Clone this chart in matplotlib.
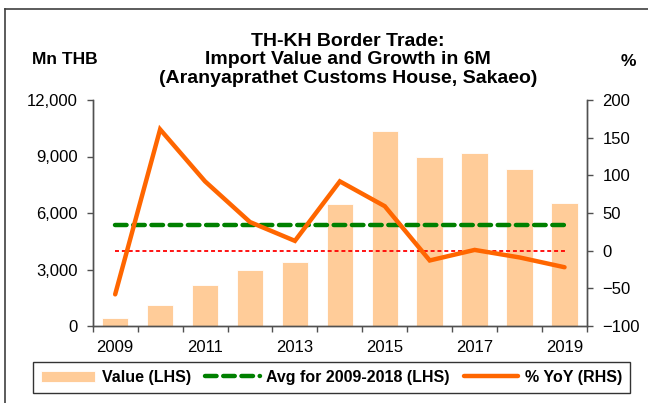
import numpy as np
import matplotlib
matplotlib.use("Agg")
import matplotlib.pyplot as plt
from matplotlib.lines import Line2D

plt.rcParams['font.family'] = ['Liberation Sans', 'DejaVu Sans']

years = [2009, 2010, 2011, 2012, 2013, 2014, 2015, 2016, 2017, 2018, 2019]
import_value = [400, 1100, 2200, 3000, 3400, 6500, 10350, 9000, 9200, 8350, 6550]   # Mn THB
yoy_growth = [-58, 161, 92, 38, 13, 92, 59, -13, 1, -9, -22]                       # %
left_ticks = [0, 3000, 6000, 9000, 12000]
right_ticks = [-100, -50, 0, 50, 100, 150, 200]

avg_value = np.mean(import_value[:10])  # 2009-2018 average

W, H = 648, 403
fig = plt.figure(figsize=(W / 100, H / 100), dpi=100)
ax = fig.add_axes([92.7 / W, 1 - 326 / H, (587 - 92.7) / W, 226 / H])
ax2 = ax.twinx()

x = np.arange(len(years))
axis_col = '#505050'
tick_fs = 12

bars = ax.bar(x, import_value, width=0.59, color='#FFCC99', edgecolor='white', linewidth=0.6,
              zorder=1)
avg_line, = ax.plot([x[0], x[-1]], [avg_value, avg_value], color='#008000', lw=3.2,
                    dashes=(2.6, 1.5), dash_capstyle='round', zorder=2)

ax2.plot([x[0], x[-1]], [0, 0], color='#FF0000', lw=1.3, dashes=(2.2, 1.6))
yoy_line, = ax2.plot(x, yoy_growth, color='#FF6600', lw=3.2, solid_capstyle='round',
                     solid_joinstyle='miter')

ax.set_xlim(-0.5, len(years) - 0.5)
ax.set_ylim(0, 12000)
ax2.set_ylim(-100, 200)

ax.set_yticks(left_ticks)
ax.set_yticklabels([f'{v:,}' for v in left_ticks])
ax2.set_yticks(right_ticks)

# boundaries get the tick marks, every other year gets a label
ax.set_xticks(np.arange(-0.5, len(years), 1.0))
ax.set_xticklabels([])
ax.set_xticks(x[::2], minor=True)
ax.set_xticklabels([str(y) for y in years[::2]], minor=True)
ax.tick_params(axis='x', which='major', direction='out', length=4, width=1, color=axis_col)
ax.tick_params(axis='x', which='minor', length=0, pad=10, labelsize=tick_fs)
ax.tick_params(axis='y', direction='out', length=4, width=1, color=axis_col, pad=7, labelsize=tick_fs)
ax2.tick_params(axis='y', direction='out', length=4, width=1, color=axis_col, pad=7, labelsize=tick_fs)

for a in (ax, ax2):
    a.spines['top'].set_visible(False)
    for s in ('left', 'right', 'bottom'):
        a.spines[s].set_color(axis_col)
        a.spines[s].set_linewidth(1)
ax.patch.set_visible(False)

fig.text(348 / W, 1 - 60 / H, 'TH-KH Border Trade:\nImport Value and Growth in 6M\n'
         '(Aranyaprathet Customs House, Sakaeo)', ha='center', va='center',
         fontsize=14, fontweight='bold', linespacing=1.1)
fig.text(65 / W, 1 - 59 / H, 'Mn THB', ha='center', va='center', fontsize=12.5, fontweight='bold')
fig.text(628 / W, 1 - 62 / H, '%', ha='center', va='center', fontsize=12.5, fontweight='bold')

# outer frame (left and top edges)
fig.add_artist(Line2D([5 / W, 5 / W], [0, 1 - 9 / H], transform=fig.transFigure,
                      color='#404040', lw=1.2))
fig.add_artist(Line2D([5 / W, 1], [1 - 9 / H, 1 - 9 / H], transform=fig.transFigure,
                      color='#404040', lw=1.2))

leg = fig.legend([bars, avg_line, yoy_line],
                 ['Value (LHS)', 'Avg for 2009-2018 (LHS)', '% YoY (RHS)'],
                 loc='center', ncol=3, mode='expand',
                 bbox_to_anchor=(25 / W, 1 - 395 / H, 613 / W, 35 / H),
                 frameon=True, fancybox=False, handlelength=3.4, handleheight=0.7,
                 borderpad=0.5, columnspacing=1.0, handletextpad=0.4,
                 prop={'size': 11.5, 'weight': 'bold'})
leg.get_frame().set_edgecolor('black')
leg.get_frame().set_linewidth(1)

fig.savefig('out.png', dpi=100)
